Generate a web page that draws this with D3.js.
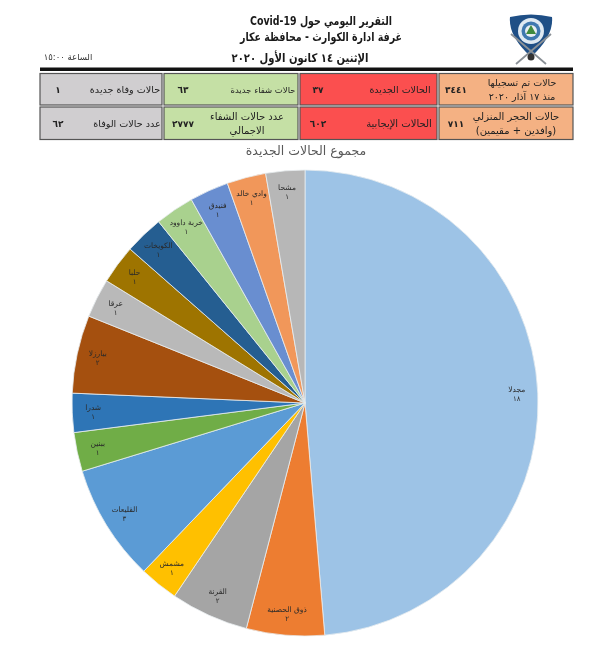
<!DOCTYPE html>
<html lang="ar">
<head>
<meta charset="utf-8">
<script src="https://d3js.org/d3.v7.min.js"></script>
<style>
html,body{margin:0;padding:0;background:#fff;}
svg{display:block;filter:blur(0.35px);}
text{font-family:"DejaVu Sans",sans-serif;}
</style>
</head>
<body>
<svg id="c" width="600" height="648"></svg>
<script>
const headerLines = ["التقرير اليومي حول Covid-19","غرفة ادارة الكوارث - محافظة عكار","الإثنين  ١٤ كانون الأول ٢٠٢٠"];
const timeLabel = "الساعة ١٥:٠٠";
const chartTitle = "مجموع الحالات الجديدة";

const row1Labels = [["حالات تم تسجيلها","منذ ١٧ آذار ٢٠٢٠"],["الحالات الجديدة"],["حالات شفاء جديدة"],["حالات وفاة جديدة"]];
const row1Values = [3441,37,63,1];
const row2Labels = [["حالات الحجر المنزلي","(وافدين + مقيمين)"],["الحالات الإيجابية"],["عدد حالات الشفاء","الاجمالي"],["عدد حالات الوفاة"]];
const row2Values = [711,602,2777,62];
const columnFills = ["#f4b183","#fb4f4f","#c5e0a5","#d0ced0"];

const towns = ["مجدلا","ذوق الحصنية","القرنة","مشمش","القليعات","ببنين","شدرا","بيارزلا","عرقا","حلبا","الكويخات","خربة داوود","فنيدق","وادي خالد","مشحا"];
const newCases = [18,2,2,1,3,1,1,2,1,1,1,1,1,1,1];
const sliceColors = ["#9dc3e6","#ed7d31","#a5a5a5","#ffc000","#5b9bd5","#70ad47","#2e75b6","#a5500f","#b9b9b9","#9e7400","#255e91","#a9d18e","#698ed0","#f1975a","#b7b7b7"];

const ar = n => String(n).replace(/\d/g,d=>"٠١٢٣٤٥٦٧٨٩"[+d]);
const svg = d3.select("#c");

// header
const hy = [25,41,62], hx = [321,321,300], hw = [142,162,137];
svg.selectAll("text.h").data(headerLines).join("text").attr("class","h")
  .attr("x",(d,i)=>hx[i]).attr("y",(d,i)=>hy[i]).attr("text-anchor","middle")
  .attr("font-size",12).attr("font-weight","bold").attr("fill","#1a1a1a")
  .attr("direction","rtl").attr("textLength",(d,i)=>hw[i]).attr("lengthAdjust","spacingAndGlyphs").text(d=>d);
svg.append("text").attr("x",68).attr("y",60).attr("text-anchor","middle").attr("font-size",8.5)
  .attr("fill","#333").attr("direction","rtl").text(timeLabel);
svg.append("rect").attr("x",40).attr("y",67.5).attr("width",533).attr("height",3.5).attr("fill","#111");

// logo
const logo = svg.append("g").attr("transform","translate(531,40)");
logo.append("path").attr("d","M-21,-23 Q0,-28 21,-23 Q23,-4 0,17 Q-23,-4 -21,-23Z").attr("fill","#1f4f86");
logo.append("circle").attr("r",13).attr("cy",-9).attr("fill","#dfe9f2");
logo.append("circle").attr("r",9.5).attr("cy",-9).attr("fill","#3f78b0");
logo.append("circle").attr("r",6).attr("cy",-9).attr("fill","#e8eef2");
logo.append("path").attr("d","M0,-15 L5,-6 L-5,-6Z").attr("fill","#3f8a3f");
logo.append("path").attr("d","M-20,-6 L15,24 M20,-6 L-15,24").attr("stroke","#8a9096").attr("stroke-width",1.8).attr("fill","none");
logo.append("circle").attr("r",3.5).attr("cy",17).attr("fill","#333");

// table
const colX = [439,300,164,40], colW = [134,137,134,122];
const labelX = [[522,400,263,125],[516,399,247,127]], valueX = [456,318,183,58];
const labelSize = [[9.5,9.5,8.5,9.6],[10,10,10,9.6]];
const rowY = [73.5,107], rowH = [31.5,32.5];
[[row1Labels,row1Values],[row2Labels,row2Values]].forEach(([labels,values],r)=>{
  const g = svg.append("g");
  labels.forEach((lines,c)=>{
    g.append("rect").attr("x",colX[c]).attr("y",rowY[r]).attr("width",colW[c]).attr("height",rowH[r])
      .attr("fill",columnFills[c]).attr("stroke","#555").attr("stroke-width",1.2);
    const cy = rowY[r]+rowH[r]/2;
    lines.forEach((t,i)=>{
      g.append("text").attr("x",labelX[r][c])
        .attr("y",cy+3.5+(lines.length>1?(i-.5)*14:0))
        .attr("text-anchor","middle").attr("direction","rtl").attr("font-size",labelSize[r][c]).attr("fill","#222").text(t);
    });
    g.append("text").attr("x",valueX[c]).attr("y",cy+3.5).attr("text-anchor","middle")
      .attr("font-size",9).attr("font-weight","bold").attr("fill","#222").text(ar(values[c]));
  });
});

svg.append("text").attr("x",306).attr("y",155).attr("text-anchor","middle").attr("direction","rtl")
  .attr("font-size",12.5).attr("fill","#595959").text(chartTitle);

// pie
const cx = 305, cy = 403, R = 233;
const pie = d3.pie().sort(null).value((d,i)=>newCases[i]);
const arcs = pie(towns);
const arc = d3.arc().innerRadius(0).outerRadius(R);
const labelArc = d3.arc().innerRadius(R*0.91).outerRadius(R*0.91);
const color = d3.scaleOrdinal().domain(towns).range(sliceColors);
const g = svg.append("g").attr("transform",`translate(${cx},${cy})`);
g.selectAll("path").data(arcs).join("path").attr("d",arc)
  .attr("fill",d=>color(d.data)).attr("stroke","#e8eef0").attr("stroke-width",.8);
const lab = g.selectAll("g.l").data(arcs).join("g").attr("class","l")
  .attr("transform",d=>`translate(${labelArc.centroid(d)})`);
lab.append("text").attr("y",-2).attr("text-anchor","middle").attr("direction","rtl")
  .attr("font-size",7.5).attr("fill","#2a2a2a").text(d=>d.data);
lab.append("text").attr("y",7).attr("text-anchor","middle")
  .attr("font-size",7).attr("fill","#2a2a2a").text(d=>ar(d.value));
</script>
</body>
</html>
